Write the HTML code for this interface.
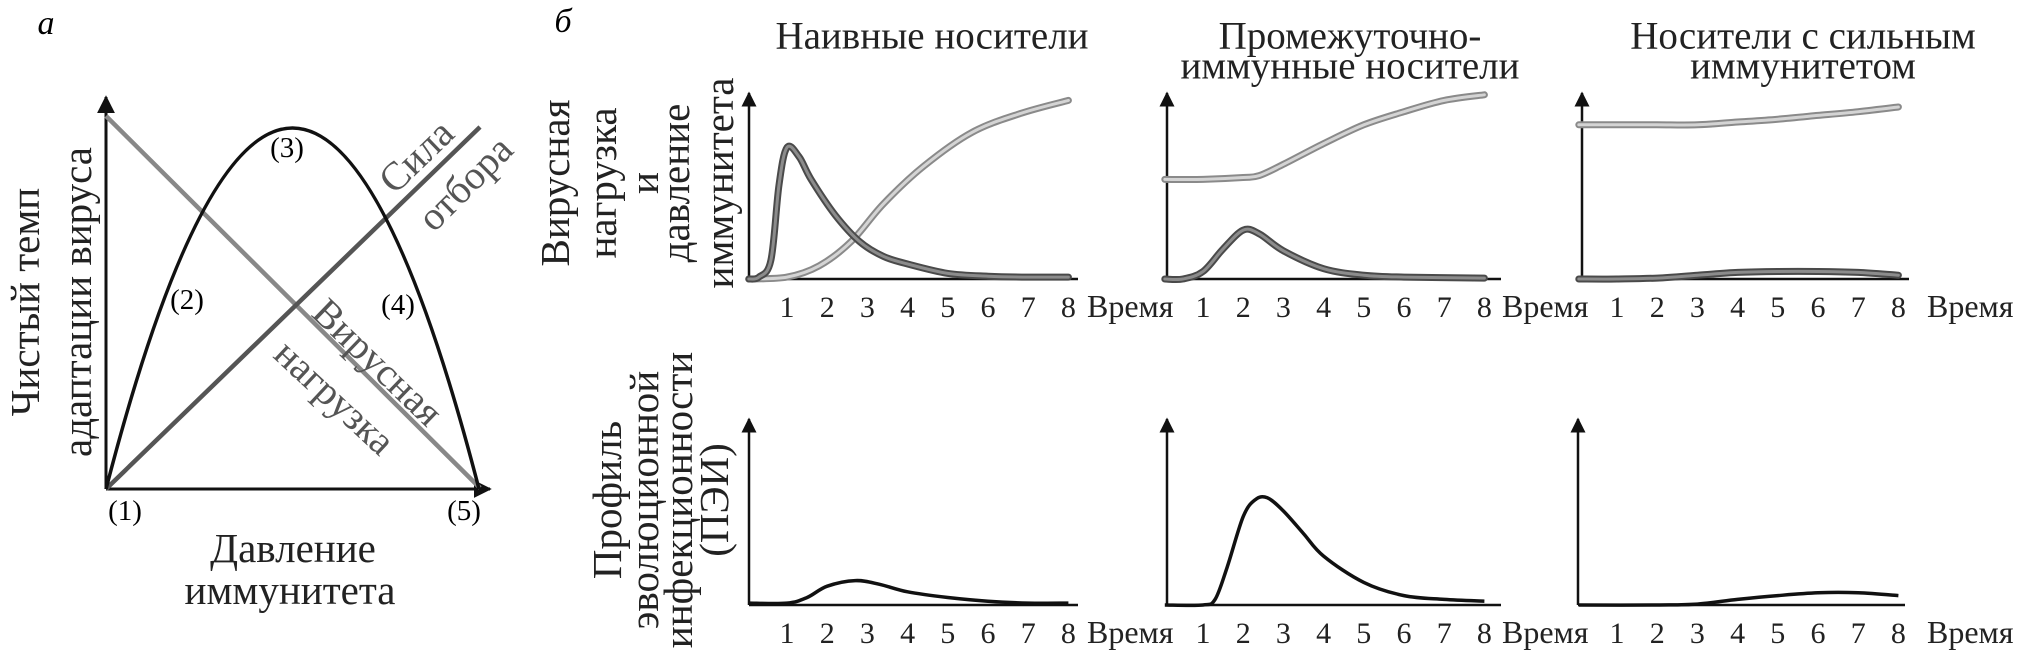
<!DOCTYPE html>
<html><head><meta charset="utf-8">
<style>
html,body{margin:0;padding:0;background:#fff;}
svg, svg text{font-family:"Liberation Serif","DejaVu Serif",serif;}
svg{display:block;}
</style></head>
<body>
<svg id="fig" width="2018" height="671" viewBox="0 0 2018 671" font-family="Liberation Serif, DejaVu Serif, serif">
<defs>
<marker id="arr" viewBox="0 0 10 10" refX="9" refY="5" markerWidth="6" markerHeight="7" orient="auto"><path d="M0,0 L10,5 L0,10 z" fill="#111"/></marker>
</defs>
<g>
<text x="46" y="34" font-size="34" font-style="italic" text-anchor="middle">а</text>
<line x1="106" y1="489" x2="106" y2="97" stroke="#111" stroke-width="3" marker-end="url(#arr)"/>
<line x1="106" y1="489" x2="490" y2="489" stroke="#111" stroke-width="3" marker-end="url(#arr)"/>
<line x1="106" y1="116" x2="480" y2="488" stroke="#888" stroke-width="4.5"/>
<line x1="106" y1="489" x2="480" y2="127" stroke="#555" stroke-width="4.5"/>
<path d="M106,489 Q292.5,-233 479,489" fill="none" stroke="#111" stroke-width="3.5"/>
<g font-size="29" text-anchor="middle" dominant-baseline="central">
<text x="287" y="148">(3)</text>
<text x="187" y="300">(2)</text>
<text x="398" y="305">(4)</text>
<text x="125" y="511">(1)</text>
<text x="464" y="511">(5)</text>
</g>
<g font-size="41" text-anchor="middle" dominant-baseline="central" fill="#222">
<text x="293" y="548">Давление</text>
<text x="290" y="590">иммунитета</text>
<text transform="translate(25,302) rotate(-90)">Чистый темп</text>
<text transform="translate(77,302) rotate(-90)">адаптации вируса</text>
</g>
<g font-size="40" text-anchor="middle" dominant-baseline="central" fill="#555">
<text transform="translate(416,156) rotate(-44)">Сила</text>
<text transform="translate(465,183) rotate(-45)">отбора</text>
<text transform="translate(378,362) rotate(44)">Вирусная</text>
<text transform="translate(335,397) rotate(43)">нагрузка</text>
</g>
</g>
<g>
<text x="563" y="32" font-size="34" font-style="italic" text-anchor="middle">б</text>
<g font-size="39" text-anchor="middle" dominant-baseline="central" fill="#222">
<text x="932" y="36">Наивные носители</text>
<text x="1350" y="36">Промежуточно-</text>
<text x="1350" y="66">иммунные носители</text>
<text x="1803" y="36">Носители с сильным</text>
<text x="1803" y="66">иммунитетом</text>
</g>
<g font-size="41" text-anchor="middle" dominant-baseline="central" fill="#222">
<text transform="translate(555,183) rotate(-90)">Вирусная</text>
<text transform="translate(602,183) rotate(-90)">нагрузка</text>
<text transform="translate(644,183) rotate(-90)">и</text>
<text transform="translate(675,183) rotate(-90)">давление</text>
<text transform="translate(719,183) rotate(-90)">иммунитета</text>
<text transform="translate(607,500) rotate(-90)">Профиль</text>
<text transform="translate(644,500) rotate(-90)">эволюционной</text>
<text transform="translate(678,500) rotate(-90)">инфекционности</text>
<text transform="translate(714,500) rotate(-90)">(ПЭИ)</text>
</g>
<g id="charts"></g>
</g>
</svg>
<script>
const tickLabels = ["1","2","3","4","5","6","7","8"];
const timeLabel = "Время";
const c1ImmuneT = [0.05,1,1.8,2.6,3.4,4.4,5.6,6.8,8];
const c1ImmuneV = [0,0.01,0.07,0.2,0.4,0.6,0.78,0.88,0.95];
const c1VirusT = [0.05,0.3,0.6,0.8,1.0,1.3,1.6,2.2,2.8,3.4,4,5,6,7,8];
const c1VirusV = [0,0.01,0.1,0.5,0.7,0.65,0.53,0.34,0.2,0.12,0.08,0.03,0.015,0.01,0.01];
const c2ImmuneT = [0.05,1,2,2.4,3,4,5,6,7,8];
const c2ImmuneV = [0.53,0.53,0.54,0.55,0.61,0.72,0.82,0.89,0.95,0.98];
const c2VirusT = [0.05,0.5,1,1.5,2,2.4,3,4,5,6,8];
const c2VirusV = [0,0,0.04,0.16,0.26,0.24,0.15,0.055,0.02,0.01,0.005];
const c3ImmuneT = [0.05,1,2,3,4,5,6,7,8];
const c3ImmuneV = [0.82,0.82,0.82,0.82,0.835,0.85,0.87,0.89,0.915];
const c3VirusT = [0.05,1,2,3,4,5,6,7,8];
const c3VirusV = [0,0,0.005,0.02,0.035,0.04,0.04,0.035,0.02];
const p1T = [0.05,1,1.5,2,2.7,3.3,4,5,6,7,8];
const p1V = [0.01,0.01,0.04,0.1,0.13,0.11,0.07,0.04,0.02,0.01,0.01];
const p2T = [0.05,1,1.3,1.6,2,2.3,2.6,3,3.5,4,5,6,7,8];
const p2V = [0,0,0.03,0.2,0.47,0.56,0.57,0.5,0.38,0.26,0.12,0.05,0.03,0.02];
const p3T = [0.05,2,3,4,5,6,7,8];
const p3V = [0,0,0.005,0.03,0.05,0.065,0.065,0.05];

const NS = "http://www.w3.org/2000/svg";
const root = document.getElementById("charts");
function mk(tag, attrs, parent){
  const e = document.createElementNS(NS, tag);
  for (const k in attrs) e.setAttribute(k, attrs[k]);
  (parent||root).appendChild(e);
  return e;
}
function smoothPath(pts){
  let d = "M" + pts[0][0].toFixed(1) + "," + pts[0][1].toFixed(1);
  for (let i=0;i<pts.length-1;i++){
    const p0 = pts[Math.max(0,i-1)], p1 = pts[i], p2 = pts[i+1], p3 = pts[Math.min(pts.length-1,i+2)];
    const c1x = p1[0]+(p2[0]-p0[0])/6, c1y = p1[1]+(p2[1]-p0[1])/6;
    const c2x = p2[0]-(p3[0]-p1[0])/6, c2y = p2[1]-(p3[1]-p1[1])/6;
    d += " C"+c1x.toFixed(1)+","+c1y.toFixed(1)+" "+c2x.toFixed(1)+","+c2y.toFixed(1)+" "+p2[0].toFixed(1)+","+p2[1].toFixed(1);
  }
  return d;
}
function chart(cfg){
  const g = mk("g", {});
  
  
  const xs = t => cfg.ax + cfg.off + (t-1)*40.2;
  const ys = v => cfg.ay - v*188;
  const ya = mk("line", {x1:cfg.ax, y1:cfg.ay, x2:cfg.ax, y2:cfg.ay-186, stroke:"#111", "stroke-width":2.5, "marker-end":"url(#arr)"}, g);
  
  
  const xa = mk("line", {x1:cfg.ax, y1:cfg.ay, x2:cfg.ax+cfg.len, y2:cfg.ay, stroke:"#111", "stroke-width":2.5}, g);
  
  
  tickLabels.forEach((lab,i)=>{
    const t = mk("text", {x:xs(i+1), y:cfg.ay+38, "font-size":30, "text-anchor":"middle", fill:"#222"}, g);
    t.textContent = lab;
    
    
  });
  const tl = mk("text", {x:cfg.timeX, y:cfg.ay+38, "font-size":32, fill:"#222"}, g);
  tl.textContent = timeLabel;
  
  
  cfg.series.forEach(s=>{
    const pts = s.t.map((t,i)=>[xs(t), ys(s.v[i])]);
    const d = smoothPath(pts);
    if (s.kind === "profile"){
      const p = mk("path", {d:d, fill:"none", stroke:"#111", "stroke-width":3.5, "stroke-linejoin":"round"}, g);
      
      
    } else {
      const outer = s.kind === "immune" ? "#8a8a8a" : "#4a4a4a";
      const inner = s.kind === "immune" ? "#d4d4d4" : "#8c8c8c";
      const p1 = mk("path", {d:d, fill:"none", stroke:outer, "stroke-width":7, "stroke-linecap":"round", "stroke-linejoin":"round"}, g);
      
      
      const p2 = mk("path", {d:d, fill:"none", stroke:inner, "stroke-width":3, "stroke-linecap":"round", "stroke-linejoin":"round"}, g);
      
      
    }
  });
}
chart({name:"naive-hosts-load-chart", ax:749, ay:279, off:38, len:329, timeX:1087,
  series:[{kind:"immune",t:c1ImmuneT,v:c1ImmuneV},{kind:"virus",t:c1VirusT,v:c1VirusV}]});
chart({name:"intermediate-hosts-load-chart", ax:1167, ay:279, off:36, len:334, timeX:1502,
  series:[{kind:"immune",t:c2ImmuneT,v:c2ImmuneV},{kind:"virus",t:c2VirusT,v:c2VirusV}]});
chart({name:"strong-hosts-load-chart", ax:1582, ay:279, off:35, len:327, timeX:1927,
  series:[{kind:"immune",t:c3ImmuneT,v:c3ImmuneV},{kind:"virus",t:c3VirusT,v:c3VirusV}]});
chart({name:"naive-hosts-profile-chart", ax:749, ay:605, off:38, len:329, timeX:1087,
  series:[{kind:"profile",t:p1T,v:p1V}]});
chart({name:"intermediate-hosts-profile-chart", ax:1167, ay:605, off:36, len:334, timeX:1502,
  series:[{kind:"profile",t:p2T,v:p2V}]});
chart({name:"strong-hosts-profile-chart", ax:1578, ay:605, off:39, len:327, timeX:1927,
  series:[{kind:"profile",t:p3T,v:p3V}]});
</script>
</body></html>
